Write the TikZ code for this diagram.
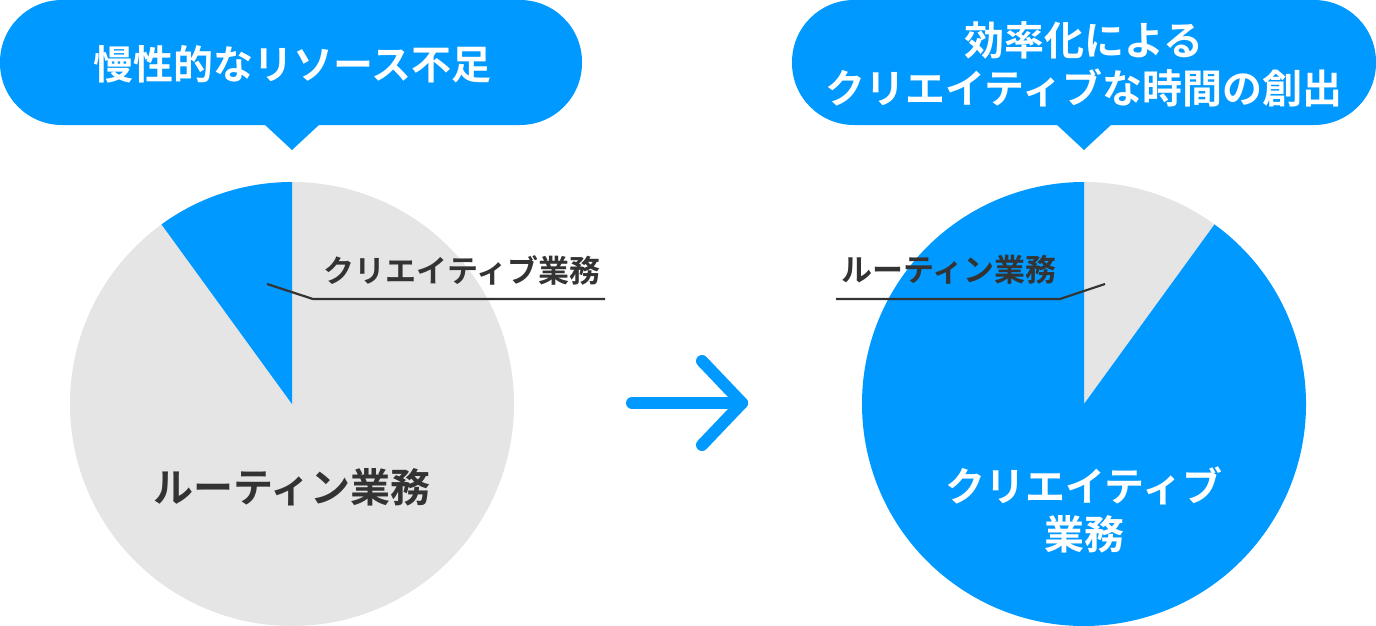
\documentclass[tikz,border=0pt]{standalone}
\usepackage{fontspec}
\setmainfont{Noto Sans CJK JP Bold}
\definecolor{blu}{HTML}{0099FF}
\definecolor{gry}{HTML}{E5E5E5}
\definecolor{dk}{HTML}{333333}
\begin{document}
\begin{tikzpicture}[x=1pt,y=-1pt,
  bubble/.style={fill=blu,draw=none},
  lead/.style={draw=dk,line width=2.2pt},
  lbl/.style={text=dk,font=\fontsize{31}{36}\selectfont},
  ttl/.style={text=white,font=\fontsize{40}{48}\selectfont,align=center}]
\useasboundingbox (0,0) rectangle (1376,626);
% left pie
\coordinate (lc) at (292,404);
\fill[gry] (lc) circle[radius=222];
\fill[blu] (lc) -- ++(0,-222) arc[start angle=-90,end angle=-126,radius=222] -- cycle;
% right pie
\coordinate (rc) at (1084,404);
\fill[gry] (rc) -- ++(0,-222) arc[start angle=-90,end angle=-54,radius=222] -- cycle;
\fill[blu] (rc) -- ++(-54:222) arc[start angle=-54,end angle=270,radius=222] -- cycle;
% bubbles
\fill[bubble,rounded corners=62] (0,0) rectangle (582,125);
\fill[bubble] (264,124) -- (292,150) -- (320,124) -- cycle;
\fill[bubble,rounded corners=62] (792,0) rectangle (1376,125);
\fill[bubble] (1056,124) -- (1084,150) -- (1112,124) -- cycle;
\node[ttl] (t1) at (292,64) {慢性的なリソース不足};
\node[ttl] (t2) at (1084,64) {効率化による\\クリエイティブな時間の創出};
% leaders
\coordinate (a1) at (267,284); \coordinate (a2) at (313,299); \coordinate (a3) at (605,299);
\draw[lead] (a1) -- (a2) -- (a3);
\node[lbl] (l1) at (462,270) {クリエイティブ業務};
\coordinate (b1) at (1105,284); \coordinate (b2) at (1060,299); \coordinate (b3) at (836,299);
\draw[lead] (b1) -- (b2) -- (b3);
\node[lbl] (l2) at (949,270) {ルーティン業務};
% pie labels
\node[text=dk,font=\fontsize{40}{48}\selectfont] (p1) at (292,487) {ルーティン業務};
\node[text=white,font=\fontsize{40}{48}\selectfont,align=center] (p2) at (1084,510) {クリエイティブ\\業務};
% arrow
\coordinate (s) at (632,403); \coordinate (e) at (742,403);
\draw[blu,line width=12pt,line cap=round,line join=round] (s) -- (e);
\draw[blu,line width=12pt,line cap=round,line join=round] (702,361) -- (e) -- (702,445);
\end{tikzpicture}
\end{document}
